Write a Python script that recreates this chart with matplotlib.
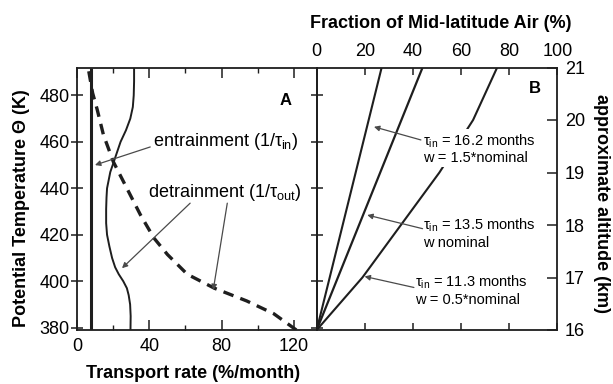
import numpy as np
import matplotlib
matplotlib.use("Agg")
import matplotlib.pyplot as plt

plt.rcParams['font.family'] = ['Liberation Sans', 'DejaVu Sans']
plt.rcParams['mathtext.fontset'] = 'custom'
plt.rcParams['mathtext.rm'] = 'Liberation Sans'
plt.rcParams['mathtext.it'] = 'Liberation Sans'
plt.rcParams['mathtext.bf'] = 'Liberation Sans:bold'

# panel A: transport rates vs potential temperature
theta_entr = [379, 492]
rate_entr = [7.5, 7.5]

theta_detr = [379, 385, 390, 394, 397, 400, 403, 406, 410, 415, 420, 425, 431,
              436, 440, 447, 452, 460, 465, 470, 475, 480, 486, 492]
rate_detr = [29.5, 29.6, 29.3, 28.5, 27.5, 25.5, 23, 21, 19.3, 17.8, 16.5, 16, 16,
             16.2, 16.5, 18.3, 20.5, 24, 27, 29.4, 30.8, 31.3, 31.5, 31.5]

theta_detr2 = [379, 386, 391.5, 397, 403, 411.5, 418.6, 428.6, 440, 451.4, 463, 474, 481, 492]
rate_detr2 = [121.5, 109, 94, 76, 61, 50, 42.5, 35, 27.5, 20, 14.5, 11, 8.5, 6]

# panel B: fraction of mid-latitude air vs altitude
alt_ends = [16, 21]
frac_162 = [0, 27]
frac_135 = [0, 44]
alt_113 = [16, 17, 18, 19, 20, 21]
frac_113 = [0, 19, 35, 51, 65, 75]

ink = '#1e1e1e'
arrow_c = '#4a4a4a'

fig = plt.figure(figsize=(6.13, 3.84), dpi=100)
W, H = 613, 384
y_bot, y_top = 330, 67.5
x_left, x_mid, x_right = 77.3, 316.7, 557.3
bot = (H - y_bot) / H
hgt = (y_bot - y_top) / H
axA = fig.add_axes([x_left / W, bot, (x_mid - x_left) / W, hgt])
axB = fig.add_axes([x_mid / W, bot, (x_right - x_mid) / W, hgt])
axB.patch.set_visible(False)

for ax in (axA, axB):
    for s in ax.spines.values():
        s.set_linewidth(1.3)
        s.set_color(ink)

# --- A ---
axA.plot(rate_entr, theta_entr, color=ink, lw=2.2, solid_capstyle='butt')
axA.plot(rate_detr, theta_detr, color=ink, lw=1.4)
axA.plot(rate_detr2, theta_detr2, color=ink, lw=2.4, linestyle=(0, (3.2, 2.2)))
axA.set_xlim(0, 132.8)
axA.set_ylim(379, 492)
axA.set_xticks([0, 40, 80, 120])
axA.set_xticks([20, 60, 100], minor=True)
axA.set_yticks([380, 400, 420, 440, 460, 480])
axA.tick_params(axis='x', which='both', direction='in', top=True, bottom=True,
                labelsize=13, pad=5.5, color=ink)
axA.tick_params(axis='x', which='major', length=7, width=1.1)
axA.tick_params(axis='x', which='minor', length=3.5, width=1.0)
axA.tick_params(axis='y', direction='inout', left=True, right=True, length=8,
                width=1.1, labelsize=13, pad=1.5, color=ink)

axA.text(115.5, 478, 'A', fontsize=12, fontweight='bold', ha='center', va='center')

axA.annotate('entrainment (1/$\\tau_{\\rm in}$)', xy=(9.8, 450), xytext=(42.0, 460),
             fontsize=13, ha='left', va='center',
             arrowprops=dict(arrowstyle='-|>', color=arrow_c, lw=0.9,
                             mutation_scale=8, shrinkA=0, shrinkB=0,
                             relpos=(0, 0.3)))
axA.text(39.3, 438.3, 'detrainment (1/$\\tau_{\\rm out}$)', fontsize=13,
         ha='left', va='center')
axA.annotate('', xy=(24.8, 405.6), xytext=(62.6, 433.6),
             arrowprops=dict(arrowstyle='-|>', color=arrow_c, lw=0.9,
                             mutation_scale=8, shrinkA=0, shrinkB=0))
axA.annotate('', xy=(75.4, 396.2), xytext=(83.2, 433.6),
             arrowprops=dict(arrowstyle='-|>', color=arrow_c, lw=0.9,
                             mutation_scale=8, shrinkA=0, shrinkB=0))

# --- B ---
axB.plot(frac_162, alt_ends, color=ink, lw=1.5)
axB.plot(frac_135, alt_ends, color=ink, lw=1.6)
axB.plot(frac_113, alt_113, color=ink, lw=1.5)
axB.set_xlim(0, 100)
axB.set_ylim(16, 21)
axB.xaxis.tick_top()
axB.set_xticks([0, 20, 40, 60, 80, 100])
axB.tick_params(axis='x', direction='in', top=True, bottom=True, length=5, width=1.1,
                labelsize=13, pad=5.5, color=ink)
axB.yaxis.tick_right()
axB.set_yticks([16, 17, 18, 19, 20, 21])
axB.tick_params(axis='y', direction='in', right=True, left=False, length=7, width=1.1,
                labelsize=13, pad=5.5, color=ink)

axB.text(90.6, 20.6, 'B', fontsize=12, fontweight='bold', ha='center', va='center')

box = dict(boxstyle='square,pad=0.1', fc='white', ec='none')
labels_B = [
    ('$\\tau_{\\rm in}$ = 16.2 months\nw = 1.5*nominal', (44.1, 19.45), (43.3, 19.62), (23.8, 19.87)),
    ('$\\tau_{\\rm in}$ = 13.5 months\nw nominal', (44.1, 17.84), (44.0, 17.93), (21.0, 18.19)),
    ('$\\tau_{\\rm in}$ = 11.3 months\nw = 0.5*nominal', (40.8, 16.76), (40.4, 16.81), (19.9, 17.02)),
]
for txt, pos, start, tip in labels_B:
    axB.text(pos[0], pos[1], txt, fontsize=10.5, ha='left', va='center',
             linespacing=1.15, bbox=box, zorder=5)
    axB.annotate('', xy=tip, xytext=start,
                 arrowprops=dict(arrowstyle='-|>', color=arrow_c, lw=0.9,
                                 mutation_scale=8, shrinkA=0, shrinkB=0), zorder=6)

# axis titles
fig.text(193 / W, 1 - 374 / H, 'Transport rate (%/month)', fontsize=13,
         fontweight='bold', ha='center', va='center')
fig.text(21.7 / W, 1 - 208 / H, 'Potential Temperature Θ (K)', fontsize=13,
         fontweight='bold', ha='center', va='center', rotation=90)
fig.text(441 / W, 1 - 23 / H, 'Fraction of Mid-latitude Air (%)', fontsize=13,
         fontweight='bold', ha='center', va='center')
fig.text(601.7 / W, 1 - 203 / H, 'approximate altitude (km)', fontsize=13,
         fontweight='bold', ha='center', va='center', rotation=270)

fig.savefig('out.png', dpi=100)
